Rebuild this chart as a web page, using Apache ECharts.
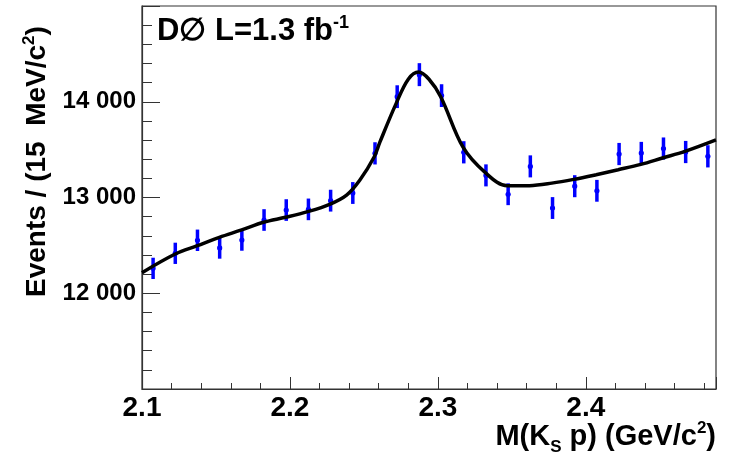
<!DOCTYPE html>
<html>
<head>
<meta charset="utf-8">
<script src="https://cdn.jsdelivr.net/npm/echarts@6/dist/echarts.min.js"></script>
<style>
html,body{margin:0;padding:0;background:#fff;}
#c{width:729px;height:456px;}
</style>
</head>
<body>
<div id="c"></div>
<script>
// Data points: bin centres (GeV/c^2), event counts, errors
const binCenters = [2.1075, 2.1225, 2.1375, 2.1525, 2.1675, 2.1825, 2.1975, 2.2125, 2.2275, 2.2425,
  2.2575, 2.2725, 2.2875, 2.3025, 2.3175, 2.3325, 2.3475, 2.3625, 2.3775, 2.3925,
  2.4075, 2.4225, 2.4375, 2.4525, 2.4675, 2.4825];
const counts = [12260, 12417, 12553, 12473, 12556, 12765, 12869, 12876, 12967, 13047,
  13461, 14053, 14283, 14064, 13472, 13231, 13034, 13325, 12890, 13118,
  13070, 13454, 13465, 13511, 13475, 13430];
const errors = [111, 111, 112, 112, 112, 113, 113, 113, 114, 114,
  116, 119, 120, 119, 116, 115, 114, 115, 114, 115,
  114, 116, 116, 116, 116, 116];
// Fit curve
const fitX = [2.1, 2.1225, 2.1374, 2.1523, 2.1674, 2.1822, 2.1971, 2.2120, 2.2268, 2.2383,
  2.2473, 2.2570, 2.2608, 2.2716, 2.2800, 2.2870, 2.2940, 2.3020, 2.3170, 2.3319,
  2.3469, 2.3619, 2.3770, 2.3918, 2.4070, 2.4219, 2.4372, 2.4518, 2.4670, 2.4880];
const fitY = [12215, 12410, 12497, 12584, 12661, 12741, 12793, 12852, 12929, 13026,
  13183, 13426, 13578, 13975, 14235, 14310, 14235, 14050, 13525, 13262,
  13122, 13124, 13150, 13189, 13238, 13290, 13346, 13413, 13482, 13602];
const yTickLabels = {12000: '12 000', 13000: '13 000', 14000: '14 000'};
const xTickLabels = {'2.1': '2.1', '2.2': '2.2', '2.3': '2.3', '2.4': '2.4'};

const chart = echarts.init(document.getElementById('c'));
const font = '"Liberation Sans", Arial, sans-serif';

const pts = binCenters.map((x, i) => [x, counts[i], errors[i]]);
const fit = fitX.map((x, i) => [x, fitY[i]]);

chart.setOption({
  animation: false,
  backgroundColor: '#fff',
  grid: {left: 142, right: 13, top: 6, bottom: 67, show: true, borderColor: '#333', borderWidth: 1.2, backgroundColor: 'transparent'},
  xAxis: {
    type: 'value', min: 2.1, max: 2.488, interval: 0.1,
    axisLine: {show: true, onZero: false, lineStyle: {color: '#333', width: 1.2}},
    axisTick: {show: true, inside: true, length: 12, lineStyle: {color: '#333', width: 1}},
    minorTick: {show: true, splitNumber: 5, length: 6, lineStyle: {color: '#333', width: 1}},
    splitLine: {show: false},
    axisLabel: {
      margin: 5, color: '#000', fontFamily: font, fontWeight: 'bold', fontSize: 28,
      showMinLabel: true, showMaxLabel: false,
      formatter: v => { const k = (Math.round(v * 10) / 10).toFixed(1); return xTickLabels[k] || ''; }
    }
  },
  yAxis: {
    type: 'value', min: 11000, max: 15000, interval: 1000,
    axisLine: {show: true, onZero: false, lineStyle: {color: '#333', width: 1.2}},
    axisTick: {show: true, inside: true, length: 18, lineStyle: {color: '#333', width: 1}},
    minorTick: {show: true, splitNumber: 5, length: 10, lineStyle: {color: '#333', width: 1}},
    splitLine: {show: false},
    axisLabel: {
      margin: 6, color: '#000', fontFamily: font, fontWeight: 'bold', fontSize: 24,
      formatter: v => yTickLabels[Math.round(v)] || ''
    }
  },
  series: [
    {
      type: 'custom',
      z: 2,
      data: pts,
      renderItem: function (params, api) {
        const x = api.value(0), y = api.value(1), e = api.value(2);
        const lo = api.coord([x, y - e]);
        const hi = api.coord([x, y + e]);
        const c = api.coord([x, y]);
        return {
          type: 'group',
          children: [
            {type: 'line', shape: {x1: lo[0], y1: lo[1], x2: hi[0], y2: hi[1]}, style: {stroke: '#0000ff', lineWidth: 3.5}},
            {type: 'circle', shape: {cx: c[0], cy: c[1], r: 2.6}, style: {fill: '#0000ff'}}
          ]
        };
      }
    },
    {
      type: 'line',
      z: 3,
      data: fit,
      smooth: 0.35,
      symbol: 'none',
      lineStyle: {color: '#000', width: 3.5}
    }
  ],
  graphic: [
    {
      type: 'text', left: 157, top: 14, z: 10,
      style: {
        text: '{b|D\u2205 L=1.3 fb}{s|-1}',
        rich: {
          b: {fontFamily: font, fontWeight: 'bold', fontSize: 31, fill: '#000'},
          s: {fontFamily: font, fontWeight: 'bold', fontSize: 18, fill: '#000', padding: [0, 0, 16, 0]}
        }
      }
    },
    {
      type: 'text', x: 37, y: 297, rotation: Math.PI / 2, z: 10,
      style: {
        text: '{b|Events / (15  MeV/c}{s|2}{b|)}',
        align: 'left', verticalAlign: 'middle',
        rich: {
          b: {fontFamily: font, fontWeight: 'bold', fontSize: 28, fill: '#000'},
          s: {fontFamily: font, fontWeight: 'bold', fontSize: 17, fill: '#000', padding: [0, 0, 16, 0]}
        }
      }
    },
    {
      type: 'text', right: 13, top: 420, z: 10,
      style: {
        text: '{b|M(K}{u|S}{b| p) (GeV/c}{s|2}{b|)}',
        rich: {
          b: {fontFamily: font, fontWeight: 'bold', fontSize: 29, fill: '#000'},
          u: {fontFamily: font, fontWeight: 'bold', fontSize: 17, fill: '#000', padding: [22, 0, 0, 0]},
          s: {fontFamily: font, fontWeight: 'bold', fontSize: 17, fill: '#000', padding: [0, 0, 16, 0]}
        }
      }
    }
  ]
});
</script>
</body>
</html>
